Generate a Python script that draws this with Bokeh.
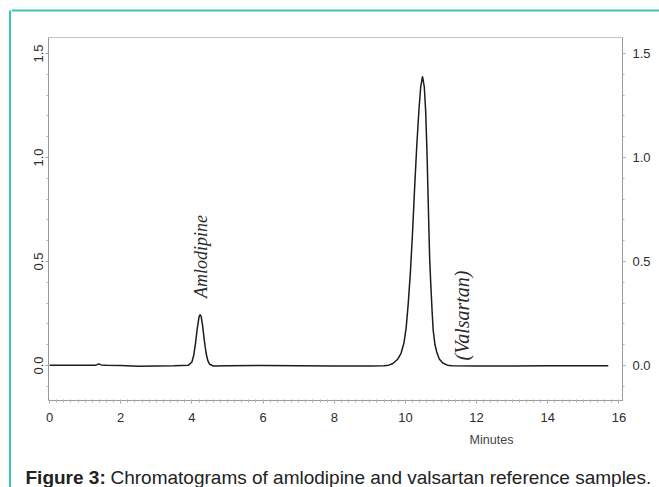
import numpy as np
from bokeh.plotting import figure
from bokeh.layouts import row, column
from bokeh.models import Range1d, LinearAxis, FixedTicker, Label, PrintfTickFormatter, Span
from bokeh.embed import file_html
from bokeh.resources import INLINE

# ---------------- data ----------------
time_min = [0.00, 0.50, 1.00, 1.30, 1.38, 1.45, 1.60, 2.00, 2.50, 3.00, 3.50, 3.90,
            4.00, 4.05, 4.10, 4.15, 4.20, 4.23, 4.26, 4.30, 4.35, 4.40, 4.45, 4.50,
            4.60, 5.00, 6.00, 7.00, 8.00, 9.00, 9.40, 9.53, 9.65, 9.78, 9.88, 9.96,
            10.02, 10.08, 10.14, 10.20, 10.26, 10.32, 10.38, 10.43, 10.48, 10.53,
            10.57, 10.61, 10.65, 10.68, 10.71, 10.75, 10.78, 10.83, 10.88, 10.95,
            11.05, 11.18, 11.30, 12.00, 13.00, 14.00, 15.00, 15.70]
absorbance = [0.002, 0.002, 0.001, 0.002, 0.008, 0.003, 0.001, 0.000, -0.003, -0.002,
              -0.001, 0.001, 0.017, 0.048, 0.105, 0.178, 0.234, 0.245, 0.236, 0.192,
              0.119, 0.058, 0.022, 0.006, -0.002, -0.001, 0.000, -0.001, -0.002,
              -0.002, -0.001, 0.002, 0.010, 0.030, 0.060, 0.110, 0.180, 0.300, 0.450,
              0.640, 0.860, 1.060, 1.230, 1.340, 1.390, 1.340, 1.220, 1.000, 0.720,
              0.520, 0.400, 0.260, 0.170, 0.100, 0.065, 0.032, 0.012, 0.002, -0.001,
              -0.002, -0.002, -0.001, -0.001, -0.001]

x_ticks = [0, 2, 4, 6, 8, 10, 12, 14, 16]
y_ticks = [0.0, 0.5, 1.0, 1.5]
x_axis_title = "Minutes"
peak_names = ["Amlodipine", "(Valsartan)"]
caption_bold = "Figure 3:"
caption_rest = "Chromatograms of amlodipine and valsartan reference samples."

TEAL = "#3dc4b0"
PAGE_W, PAGE_H = 659, 487
STRIP_L, STRIP_T = 11, 12          # strips that carry the teal frame lines
MAIN_H = 430 - STRIP_T            # main chart figure height
CAP_H = PAGE_H - 430              # caption figure height

X0, X1 = -0.03, 16.10
Y0, Y1 = -0.168, 1.577
PFL, PFR, PFT, PFB = 48, 622, 37, 400   # frame edges in page pixels


def dx(page_x):
    return X0 + (page_x - PFL) / (PFR - PFL) * (X1 - X0)


def dy(page_y):
    return Y1 - (page_y - PFT) / (PFB - PFT) * (Y1 - Y0)


def bare(fig):
    fig.grid.visible = False
    fig.outline_line_color = None
    fig.background_fill_color = "white"
    fig.border_fill_color = "white"
    return fig


# ---------------- teal frame strips ----------------
left_strip = bare(figure(width=STRIP_L, height=PAGE_H, output_backend="svg",
                         toolbar_location=None, x_axis_location=None, y_axis_location=None,
                         x_range=Range1d(0, STRIP_L), y_range=Range1d(PAGE_H, 0),
                         min_border=0))
left_strip.segment(x0=[9.5], y0=[10], x1=[9.5], y1=[PAGE_H], line_color=TEAL, line_width=2)

top_strip = bare(figure(width=PAGE_W - STRIP_L, height=STRIP_T, output_backend="svg",
                        toolbar_location=None, x_axis_location=None, y_axis_location=None,
                        x_range=Range1d(STRIP_L, PAGE_W), y_range=Range1d(STRIP_T, 0),
                        min_border=0))
top_strip.add_layout(Span(location=10, dimension="width", line_color=TEAL, line_width=2))

# ---------------- main chart ----------------
p = figure(width=PAGE_W - STRIP_L, height=MAIN_H, output_backend="svg",
           toolbar_location=None,
           x_range=Range1d(X0, X1), y_range=Range1d(Y0, Y1),
           x_axis_location=None, y_axis_location=None,
           min_border_left=PFL - STRIP_L, min_border_right=PAGE_W - PFR,
           min_border_top=PFT - STRIP_T, min_border_bottom=430 - PFB)
p.grid.visible = False
p.background_fill_color = "white"
p.border_fill_color = "white"
p.outline_line_color = "#c4c4c4"
p.outline_line_width = 1

tick_font = "Liberation Sans"
y_minor = [round(v, 2) for v in np.arange(-0.1, 1.55, 0.1)]
x_minor = [round(v, 2) for v in np.arange(0, 16.05, 0.2)]


def style_axis(ax):
    ax.axis_line_color = "#9a9a9a"
    ax.major_tick_line_color = "#9a9a9a"
    ax.minor_tick_line_color = "#b0b0b0"
    ax.major_tick_in = 0
    ax.major_tick_out = 3
    ax.minor_tick_in = 0
    ax.minor_tick_out = 2
    ax.major_label_text_font = tick_font
    ax.major_label_text_font_size = "13px"
    ax.major_label_text_color = "#2e2e2e"


left = LinearAxis(ticker=FixedTicker(ticks=y_ticks, minor_ticks=y_minor),
                  formatter=PrintfTickFormatter(format="%.1f"),
                  major_label_orientation="vertical")
style_axis(left)
left.major_label_standoff = 2
p.add_layout(left, "left")

right = LinearAxis(ticker=FixedTicker(ticks=y_ticks, minor_ticks=y_minor),
                   formatter=PrintfTickFormatter(format="%.1f"))
style_axis(right)
right.major_label_standoff = 7
p.add_layout(right, "right")

bottom = LinearAxis(ticker=FixedTicker(ticks=x_ticks, minor_ticks=x_minor))
style_axis(bottom)
bottom.minor_tick_in = 1
bottom.major_label_standoff = 9
p.add_layout(bottom, "below")

# chromatogram trace
p.line(time_min, absorbance, line_color="#1c1c1c", line_width=1.5)

# peak labels
p.add_layout(Label(x=dx(200), y=dy(256), text=peak_names[0], angle=np.pi / 2,
                   text_align="center", text_baseline="middle",
                   text_font="Liberation Serif", text_font_style="italic",
                   text_font_size="18px", text_color="#2a2a2a"))
p.add_layout(Label(x=dx(461), y=dy(315), text=peak_names[1], angle=np.pi / 2,
                   text_align="center", text_baseline="middle",
                   text_font="Liberation Serif", text_font_style="italic",
                   text_font_size="20px", text_color="#2a2a2a"))

# ---------------- axis title + caption strip ----------------
c = bare(figure(width=PAGE_W - STRIP_L, height=CAP_H, output_backend="svg",
                toolbar_location=None, x_axis_location=None, y_axis_location=None,
                x_range=Range1d(STRIP_L, PAGE_W), y_range=Range1d(PAGE_H, 430),
                min_border=0))
c.add_layout(Label(x=491, y=439, text=x_axis_title,
                   text_align="center", text_baseline="middle",
                   text_font=tick_font, text_font_size="12.5px", text_color="#444444"))
c.add_layout(Label(x=25, y=477, text=caption_bold,
                   text_align="left", text_baseline="alphabetic",
                   text_font="Liberation Sans", text_font_style="bold",
                   text_font_size="19px", text_color="#222222"))
c.add_layout(Label(x=110, y=477, text=caption_rest,
                   text_align="left", text_baseline="alphabetic",
                   text_font="Liberation Sans", text_font_size="19px",
                   text_color="#222222"))

# wrap each figure separately so the column does not align their frames
layout = row(left_strip,
             column(row(top_strip, spacing=0), row(p, spacing=0), row(c, spacing=0), spacing=0),
             spacing=0)

open("out.html", "w").write(file_html(layout, INLINE))
